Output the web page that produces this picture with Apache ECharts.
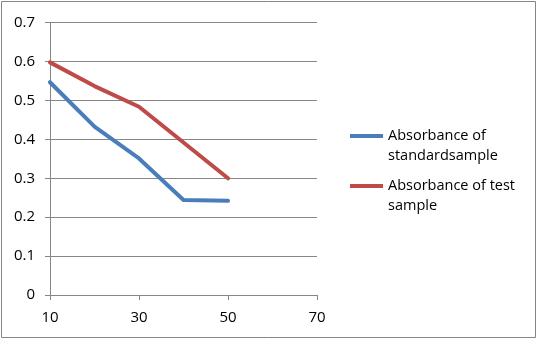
<!DOCTYPE html>
<html>
<head>
<meta charset="utf-8">
<script src="https://cdn.jsdelivr.net/npm/echarts@6/dist/echarts.min.js"></script>
<style>
html,body{margin:0;padding:0;background:#fff;}
#c{width:539px;height:342px;}
</style>
</head>
<body>
<div id="c"></div>
<script>
const xValues = [10, 20, 30, 40, 50];
const standardSample = [0.547, 0.433, 0.351, 0.244, 0.242];
const testSample = [0.598, 0.537, 0.484, 0.392, 0.300];
const seriesNames = ['Absorbance of\nstandardsample', 'Absorbance of test\nsample'];
const seriesColors = ['#4A7EBB', '#BE4B48'];

const FONT = 'Open Sans';
const chart = echarts.init(document.getElementById('c'), null, {renderer: 'canvas'});

function pairs(xs, ys) { return xs.map((x, i) => [x, ys[i]]); }

function legendFor(i, top) {
  return {
    data: [seriesNames[i]],
    left: 350, top: top, padding: 0,
    icon: 'rect', itemWidth: 33, itemHeight: 4,
    formatter: n => ' \n' + n,
    textStyle: {fontFamily: FONT, fontSize: 14.5, color: '#000', lineHeight: 20},
    selectedMode: false
  };
}

chart.setOption({
  animation: false,
  backgroundColor: '#fff',
  graphic: [{
    type: 'rect', silent: true,
    shape: {x: 1.5, y: 1.5, width: 534, height: 336},
    style: {fill: 'none', stroke: '#868686', lineWidth: 1}
  }],
  grid: {left: 50, right: 222, top: 22.7, bottom: 47, containLabel: false},
  legend: [legendFor(0, 106), legendFor(1, 156)],
  xAxis: {
    type: 'value', min: 10, max: 70, interval: 20,
    axisLine: {show: true, lineStyle: {color: '#868686', width: 1}},
    axisTick: {show: true, length: 5, inside: false, lineStyle: {color: '#868686'}},
    axisLabel: {fontFamily: FONT, fontSize: 15, color: '#000', margin: 15},
    splitLine: {show: false}
  },
  yAxis: {
    type: 'value', min: 0, max: 0.7, interval: 0.1,
    axisLine: {show: true, lineStyle: {color: '#868686', width: 1}},
    axisTick: {show: true, length: 5, lineStyle: {color: '#868686'}},
    axisLabel: {fontFamily: FONT, fontSize: 15, color: '#000', margin: 15,
      formatter: v => String(Math.round(v * 10) / 10)},
    splitLine: {show: true, lineStyle: {color: '#868686', width: 1}}
  },
  series: [
    {name: seriesNames[0], type: 'line', data: pairs(xValues, standardSample),
     showSymbol: false, symbol: 'none', color: seriesColors[0],
     lineStyle: {width: 4, color: seriesColors[0], cap: 'round', join: 'round'}},
    {name: seriesNames[1], type: 'line', data: pairs(xValues, testSample),
     showSymbol: false, symbol: 'none', color: seriesColors[1],
     lineStyle: {width: 4, color: seriesColors[1], cap: 'round', join: 'round'}}
  ]
});
</script>
</body>
</html>
